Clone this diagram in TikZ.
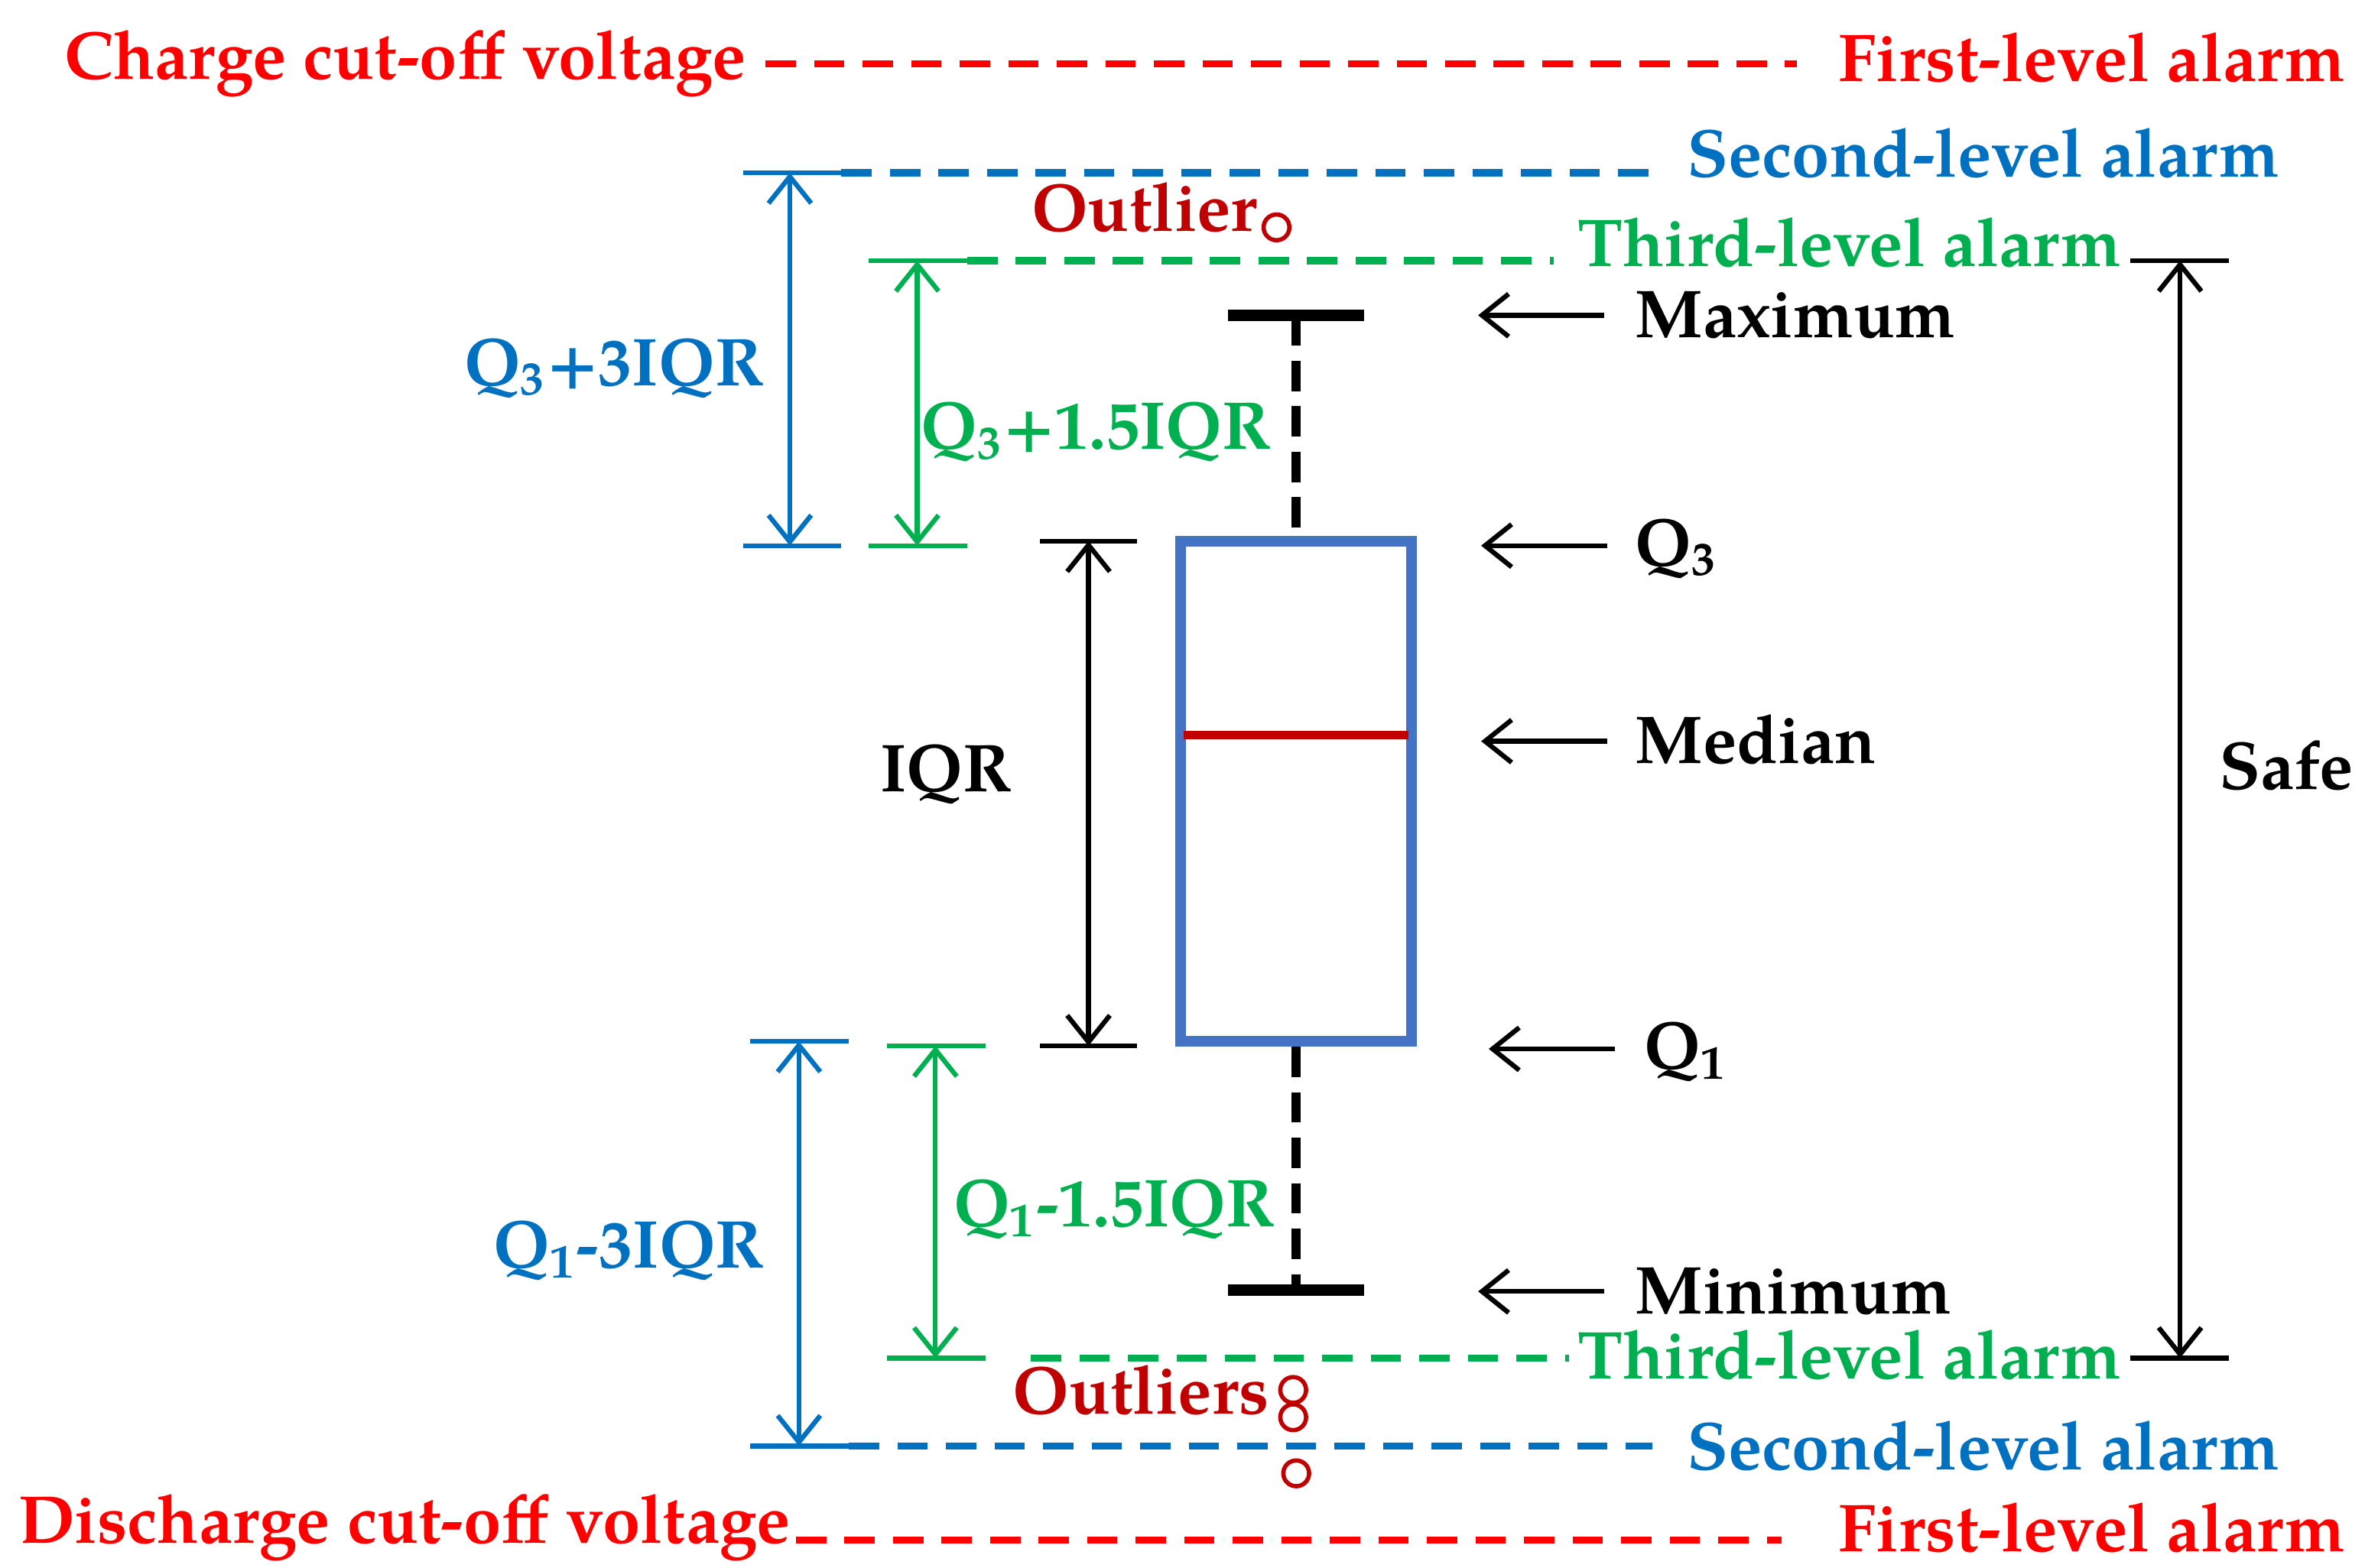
\documentclass[tikz,border=0pt]{standalone}
\usepackage{fontspec}
\setmainfont{TeX Gyre Pagella}
\usetikzlibrary{arrows.meta}
\definecolor{cred}{RGB}{255,0,0}
\definecolor{dred}{RGB}{192,0,0}
\definecolor{cblue}{RGB}{0,112,192}
\definecolor{cgreen}{RGB}{0,176,80}
\definecolor{bxblue}{RGB}{68,114,196}
\begin{document}
\begin{tikzpicture}[x=0.01cm,y=-0.01cm,
  txt/.style={font=\fontsize{12.7}{15}\selectfont\bfseries, inner sep=0pt},
  dl/.style={line width=1.3pt, dash pattern=on 0.2cm off 0.12cm},
  tk/.style={line width=0.9pt},
  da/.style={line width=0.9pt,{Straight Barb[length=5pt,width=8pt]}-{Straight Barb[length=5pt,width=8pt]}},
  pa/.style={line width=0.9pt,-{Straight Barb[length=5pt,width=8pt]}}]
\useasboundingbox (0,0) rectangle (1560,1034);
% red top
\node[txt,cred,anchor=east] (cc) at (493,42) {Charge cut-off voltage};
\node[txt,cred,anchor=west] (fa1) at (1212,38) {First-level alarm};
\coordinate (r1a) at (505,42); \coordinate (r1b) at (1185,42);
\draw[dl,cred] (r1a) -- (r1b);
% blue top
\coordinate (b1a) at (490,114); \coordinate (b1b) at (555,114); \coordinate (b1c) at (1090,114);
\draw[tk,cblue] (b1a) -- (b1b);
\draw[dl,cblue] (b1b) -- (b1c);
\node[txt,cblue,anchor=west] (sa1) at (1112,101) {Second-level alarm};
% green top
\coordinate (g1a) at (573,172); \coordinate (g1b) at (638,172); \coordinate (g1c) at (1025,172);
\draw[tk,cgreen] (g1a) -- (g1b);
\draw[dl,cgreen] (g1b) -- (g1c);
\node[txt,cgreen,anchor=west] (ta1) at (1040,160) {Third-level alarm};
\coordinate (s1a) at (1405,172); \coordinate (s1b) at (1470,172);
\draw[tk] (s1a) -- (s1b);
% outlier top
\node[txt,dred,anchor=east] (ol) at (830,137) {Outlier};
\node[draw=dred,circle,minimum size=0.17cm,inner sep=0pt,line width=0.8pt] (o1) at (842,150) {};
% box
\node[draw=bxblue,line width=2pt,minimum width=1.52cm,minimum height=3.3cm,inner sep=0pt] (box) at (855,522) {};
\coordinate (mx1) at (810,208); \coordinate (mx2) at (900,208); \coordinate (mxc) at (855,208);
\coordinate (mn1) at (810,851); \coordinate (mn2) at (900,851); \coordinate (mnc) at (855,851);
\draw[line width=2.2pt] (mx1) -- (mx2);
\draw[line width=2.2pt] (mn1) -- (mn2);
\draw[line width=1.8pt,dash pattern=on 0.2cm off 0.1cm] (mxc) -- (box.north);
\draw[line width=1.8pt,dash pattern=on 0.2cm off 0.1cm] (box.south) -- (mnc);
\coordinate (md1) at (781,485); \coordinate (md2) at (929,485);
\draw[dred,line width=1.6pt] (md1) -- (md2);
% right labels with arrows
\node[txt,anchor=west] (lmax) at (1078,208) {Maximum};
\node[txt,anchor=west] (lq3) at (1078,362) {Q\textsubscript{3}};
\node[txt,anchor=west] (lmed) at (1078,488) {Median};
\node[txt,anchor=west] (lq1) at (1084,694) {Q\textsubscript{1}};
\node[txt,anchor=west] (lmin) at (1078,852) {Minimum};
\coordinate (am1) at (1058,208); \coordinate (am2) at (975,208);
\coordinate (aq31) at (1060,360); \coordinate (aq32) at (977,360);
\coordinate (ame1) at (1060,489); \coordinate (ame2) at (977,489);
\coordinate (aq11) at (1065,692); \coordinate (aq12) at (982,692);
\coordinate (ami1) at (1058,852); \coordinate (ami2) at (975,852);
\draw[pa] (am1) -- (am2);
\draw[pa] (aq31) -- (aq32);
\draw[pa] (ame1) -- (ame2);
\draw[pa] (aq11) -- (aq12);
\draw[pa] (ami1) -- (ami2);
% IQR
\coordinate (i1a) at (686,357); \coordinate (i1b) at (750,357);
\coordinate (i2a) at (686,690); \coordinate (i2b) at (750,690);
\draw[tk] (i1a) -- (i1b); \draw[tk] (i2a) -- (i2b);
\coordinate (ia) at (718,357); \coordinate (ib) at (718,690);
\draw[da] (ia) -- (ib);
\node[txt] (liqr) at (624,511) {IQR};
% Q3+3IQR
\coordinate (b2a) at (490,360); \coordinate (b2b) at (555,360);
\draw[tk,cblue] (b2a) -- (b2b);
\coordinate (ba1) at (521,114); \coordinate (ba2) at (521,360);
\draw[da,cblue] (ba1) -- (ba2);
\node[txt,cblue] (lq33) at (405,243) {Q\textsubscript{3}+3IQR};
% Q3+1.5IQR
\coordinate (g2a) at (573,360); \coordinate (g2b) at (638,360);
\draw[tk,cgreen] (g2a) -- (g2b);
\coordinate (ga1) at (605,172); \coordinate (ga2) at (605,360);
\draw[da,cgreen] (ga1) -- (ga2);
\node[txt,cgreen] (lq315) at (723,285) {Q\textsubscript{3}+1.5IQR};
% Q1-3IQR
\coordinate (b3a) at (495,687); \coordinate (b3b) at (560,687);
\coordinate (b4a) at (495,954); \coordinate (b4b) at (560,954); \coordinate (b4c) at (1090,954);
\draw[tk,cblue] (b3a) -- (b3b);
\draw[tk,cblue] (b4a) -- (b4b);
\draw[dl,cblue] (b4b) -- (b4c);
\coordinate (bb1) at (527,687); \coordinate (bb2) at (527,954);
\draw[da,cblue] (bb1) -- (bb2);
\node[txt,cblue] (lq13) at (415,825) {Q\textsubscript{1}-3IQR};
\node[txt,cblue,anchor=west] (sa2) at (1112,954) {Second-level alarm};
% Q1-1.5IQR
\coordinate (g3a) at (585,690); \coordinate (g3b) at (650,690);
\coordinate (g4a) at (585,896); \coordinate (g4b) at (650,896); \coordinate (g4s) at (680,896); \coordinate (g4c) at (1035,896);
\draw[tk,cgreen] (g3a) -- (g3b);
\draw[tk,cgreen] (g4a) -- (g4b);
\draw[dl,cgreen] (g4s) -- (g4c);
\coordinate (gb1) at (617,690); \coordinate (gb2) at (617,896);
\draw[da,cgreen] (gb1) -- (gb2);
\node[txt,cgreen] (lq115) at (735,798) {Q\textsubscript{1}-1.5IQR};
\node[txt,cgreen,anchor=west] (ta2) at (1040,894) {Third-level alarm};
\coordinate (s2a) at (1405,896); \coordinate (s2b) at (1470,896);
\draw[tk] (s2a) -- (s2b);
% Safe
\coordinate (sf1) at (1438,172); \coordinate (sf2) at (1438,896);
\draw[da] (sf1) -- (sf2);
\node[txt] (lsafe) at (1508,505) {Safe};
% outliers bottom
\node[txt,dred,anchor=east] (ols) at (838,917) {Outliers};
\node[draw=dred,circle,minimum size=0.17cm,inner sep=0pt,line width=0.8pt] (o2) at (853,917) {};
\node[draw=dred,circle,minimum size=0.17cm,inner sep=0pt,line width=0.8pt] (o3) at (853,935) {};
\node[draw=dred,circle,minimum size=0.17cm,inner sep=0pt,line width=0.8pt] (o4) at (855,972) {};
% red bottom
\node[txt,cred,anchor=east] (dc) at (522,1008) {Discharge cut-off voltage};
\node[txt,cred,anchor=west] (fa2) at (1212,1008) {First-level alarm};
\coordinate (r2a) at (525,1016); \coordinate (r2b) at (1175,1016);
\draw[dl,cred] (r2a) -- (r2b);
\end{tikzpicture}
\end{document}
